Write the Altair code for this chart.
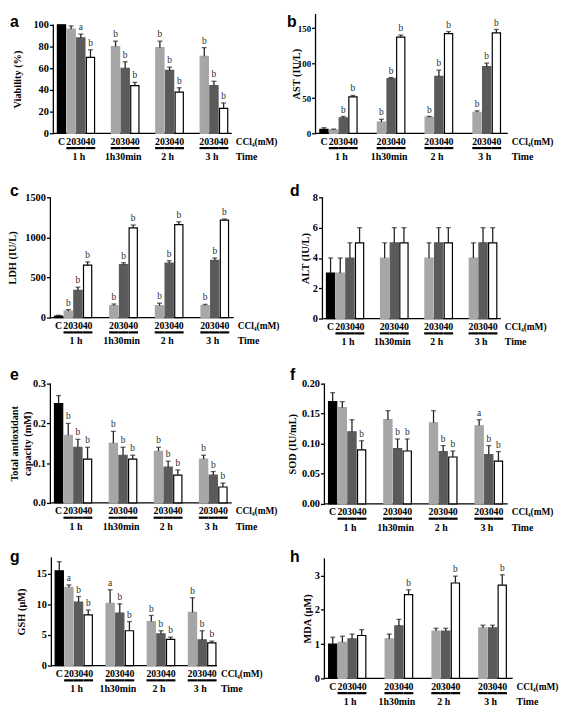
import altair as alt
import pandas as pd

SERIF = "Liberation Serif"
SANS = "Liberation Sans"

times = ["1 h", "1h30min", "2 h", "3 h"]
doses = ["C", "20", "30", "40"]
bar_time = ["1 h"] * 4 + ["1h30min"] * 3 + ["2 h"] * 3 + ["3 h"] * 3
bar_dose = ["C", "20", "30", "40"] + ["20", "30", "40"] * 3

via_mean = [100, 96, 88, 70, 80, 60, 44, 79, 58, 38, 71, 44, 23]
via_err = [0, 3, 3.5, 7, 5, 6, 3, 6, 3, 4, 8, 4, 5]
via_sig = ["", "", "a", "b", "b", "b", "b", "b", "b", "b", "b", "b", "b"]

ast_mean = [5.5, 5, 22, 52, 16, 78, 137, 23, 81, 142, 30, 95, 143]
ast_err = [2.5, 1, 2, 2, 4, 1.5, 3, 1, 9, 3, 2, 5, 5]
ast_sig = ["", "", "b", "b", "b", "b", "b", "b", "b", "b", "b", "b", "b"]

ldh_mean = [20, 80, 340, 655, 150, 660, 1120, 150, 680, 1160, 150, 715, 1215]
ldh_err = [10, 20, 40, 40, 20, 25, 35, 30, 30, 35, 15, 30, 15]
ldh_sig = ["", "b", "b", "b", "b", "b", "b", "b", "b", "b", "b", "b", "b"]

alt_mean = [3, 3, 4, 5, 4, 5, 5, 4, 5, 5, 4, 5, 5]
alt_err = [1, 1, 1, 1, 1, 1, 1, 1, 1, 1, 1, 1, 1]
alt_sig = [""] * 13

tac_mean = [0.25, 0.17, 0.14, 0.11, 0.15, 0.12, 0.11, 0.13, 0.09, 0.07, 0.11, 0.07, 0.04]
tac_err = [0.02, 0.03, 0.02, 0.03, 0.03, 0.02, 0.01, 0.01, 0.015, 0.013, 0.01, 0.009, 0.01]
tac_sig = ["", "b", "b", "b", "b", "b", "b", "b", "b", "b", "b", "b", "b"]

sod_mean = [0.17, 0.16, 0.12, 0.09, 0.14, 0.092, 0.088, 0.135, 0.087, 0.078, 0.13, 0.082, 0.071]
sod_err = [0.015, 0.01, 0.02, 0.015, 0.015, 0.016, 0.02, 0.02, 0.01, 0.01, 0.01, 0.015, 0.016]
sod_sig = ["", "", "", "b", "", "b", "b", "", "b", "b", "a", "b", "b"]

gsh_mean = [15.5, 12.8, 10.4, 8.3, 10.2, 8.6, 5.7, 7.2, 5.2, 4.3, 8.7, 4.2, 3.7]
gsh_err = [1.5, 0.4, 0.9, 0.8, 2.2, 1.5, 1.5, 1.0, 0.5, 0.35, 2.4, 1.5, 0.3]
gsh_sig = ["", "a", "b", "b", "a", "b", "b", "b", "b", "b", "b", "b", "b"]

mda_mean = [1.0, 1.05, 1.15, 1.25, 1.15, 1.53, 2.44, 1.38, 1.38, 2.78, 1.47, 1.47, 2.72]
mda_err = [0.2, 0.18, 0.14, 0.17, 0.14, 0.19, 0.14, 0.08, 0.08, 0.2, 0.08, 0.08, 0.3]
mda_sig = ["", "", "", "", "", "", "b", "", "", "b", "", "", "b"]

bar_fill = ["#000000", "#a6a6a6", "#5a5a5a", "#ffffff"]
bar_stroke = ["#000000", "#a6a6a6", "#5a5a5a", "#000000"]


def panel(letter, title, means, errs, sigs, ticks, fmt, g):
    ox, oy, W, H, dx, ymax, ytop, lx, ly, tcx, lfs = g
    df = pd.DataFrame({"time": bar_time, "dose": bar_dose, "mean": means,
                       "err": errs, "sig": sigs})
    df["hi"] = df["mean"] + df["err"]
    xs = alt.Scale(domain=times, range=[dx, W], paddingInner=0.14, paddingOuter=0.08)
    xos = alt.Scale(domain=doses, paddingInner=0.15, paddingOuter=0.05)
    ys = alt.Scale(domain=[0, ymax], nice=False, zero=False)
    y_axis_mid = (H + H - ytop / ymax * H) / 2
    yaxis = alt.Axis(values=ticks, format=fmt, title=title, grid=False, domain=False,
                     offset=-dx, tickColor="black", tickWidth=1.3, tickSize=4,
                     labelFont=SERIF, labelFontWeight="bold", labelFontSize=lfs,
                     labelColor="black", labelPadding=1,
                     titleFont=SERIF, titleFontWeight="bold", titleFontSize=10.5,
                     titleColor="black", titleAngle=270, titleAlign="center",
                     titleBaseline="middle", titleX=tcx - ox - dx, titleY=y_axis_mid)
    X = alt.X("time:N", scale=xs, axis=None)
    XO = alt.XOffset("dose:N", scale=xos)
    one = pd.DataFrame({"k": [0]})

    yline = alt.Chart(one).mark_rule(color="black", strokeWidth=1.3).encode(
        x=alt.value(dx), y=alt.YDatum(0, scale=ys, axis=yaxis), y2=alt.Y2Datum(ytop))
    xline = alt.Chart(one).mark_rule(color="black", strokeWidth=1.3).encode(
        x=alt.value(dx), x2=alt.value(W), y=alt.value(H))
    bars = alt.Chart(df).mark_bar(strokeWidth=1.2).encode(
        x=X, xOffset=XO, y=alt.Y("mean:Q", scale=ys, axis=yaxis),
        fill=alt.Fill("dose:N", scale=alt.Scale(domain=doses, range=bar_fill), legend=None),
        stroke=alt.Stroke("dose:N", scale=alt.Scale(domain=doses, range=bar_stroke), legend=None))
    err = alt.Chart(df).mark_rule(color="#222222", strokeWidth=1.3).encode(
        x=X, xOffset=XO, y=alt.Y("mean:Q", scale=ys, axis=yaxis), y2="hi:Q")
    cap = alt.Chart(df).mark_tick(color="#222222", thickness=1.3, size=5).encode(
        x=X, xOffset=XO, y=alt.Y("hi:Q", scale=ys, axis=yaxis))
    sig = alt.Chart(df).mark_text(font=SERIF, fontSize=9.5, color="#2a2a2a",
                                  baseline="bottom", dy=-2).encode(
        x=X, xOffset=XO, y=alt.Y("hi:Q", scale=ys, axis=yaxis), text="sig:N")
    dlab = alt.Chart(df).mark_text(font=SERIF, fontSize=10, fontWeight="bold",
                                   color="black", baseline="middle").encode(
        x=X, xOffset=XO, y=alt.value(H + 8.5), text="dose:N")
    under = alt.Chart(df[df["dose"] != "C"]).mark_bar(
        fill="black", stroke="black", strokeWidth=1.4).encode(
        x=X, xOffset=XO, y=alt.value(H + 14.6), y2=alt.value(H + 15.4))
    tdf = pd.DataFrame({"time": times, "dose": ["30"] * 4})
    tlab = alt.Chart(tdf).mark_text(font=SERIF, fontSize=10, fontWeight="bold",
                                    color="black", baseline="middle", dx=-2).encode(
        x=X, xOffset=XO, y=alt.value(H + 24), text="time:N")
    r1 = alt.Chart(one).mark_text(text="CCl₄(mM)", font=SERIF, fontSize=9.5,
                                  fontWeight="bold", color="black", align="left",
                                  baseline="middle").encode(
        x=alt.value(W + 4), y=alt.value(H + 8.5))
    r2 = alt.Chart(one).mark_text(text="Time", font=SERIF, fontSize=10,
                                  fontWeight="bold", color="black", align="left",
                                  baseline="middle").encode(
        x=alt.value(W + 4), y=alt.value(H + 24))
    let = alt.Chart(one).mark_text(text=letter, font=SANS, fontSize=16,
                                   fontWeight="bold", color="black", align="left",
                                   baseline="top").encode(
        x=alt.value(lx - ox), y=alt.value(ly - oy))
    return alt.layer(yline, xline, bars, err, cap, sig, dlab, under, tlab, r1, r2,
                     let).properties(width=W, height=H)


pa = panel("a", "Viability (%)", via_mean, via_err, via_sig,
           [0, 20, 40, 60, 80, 100], "d",
           (49, 8, 184, 121, 3, 110, 100, 8, 8, 16, 10.5))
pb = panel("b", "AST (IU/L)", ast_mean, ast_err, ast_sig,
           [0, 50, 100, 150], "d",
           (318, 8, 195, 121, 0, 170, 170, 289, 8, 299, 9))
pc = panel("c", "LDH (IU/L)", ldh_mean, ldh_err, ldh_sig,
           [0, 500, 1000, 1500], "d",
           (49, 194, 186, 122, 0, 1500, 1500, 8, 180, 11, 10.5))
pd_ = panel("d", "ALT (IU/L)", alt_mean, alt_err, alt_sig,
            [0, 2, 4, 6, 8], "d",
            (318, 194, 188, 123, 7, 8, 8, 292, 180, 308, 10.5))
pe = panel("e", ["Total antioxidant", "capacity (mM)"], tac_mean, tac_err, tac_sig,
           [0.0, 0.1, 0.2, 0.3], ".1f",
           (49, 382, 184, 122, 0, 0.3025, 0.3, 8, 366, 13, 10.5))
pf = panel("f", "SOD (IU/mL)", sod_mean, sod_err, sod_sig,
           [0.0, 0.05, 0.10, 0.15, 0.20], ".2f",
           (318, 382, 195, 123, 9, 0.2016, 0.2, 292, 366, 295, 10.5))
pg = panel("g", "GSH (μM)", gsh_mean, gsh_err, gsh_sig,
           [0, 5, 10, 15], "d",
           (49, 570, 169, 99, 1, 15.97, 17.7, 8, 551, 20, 10.5))
ph = panel("h", "MDA (μM)", mda_mean, mda_err, mda_sig,
           [0, 1, 2, 3], "d",
           (318, 570, 200, 112, 9, 3.218, 3.5, 292, 551, 310, 10.5))

chart = alt.concat(
    pa, pb, pc, pd_, pe, pf, pg, ph,
    columns=2, spacing={"row": 65, "column": 83}, bounds="flush",
).properties(padding=0).configure_view(strokeWidth=0)

chart.save("out.html", embed_options={"renderer": "svg", "actions": False})
